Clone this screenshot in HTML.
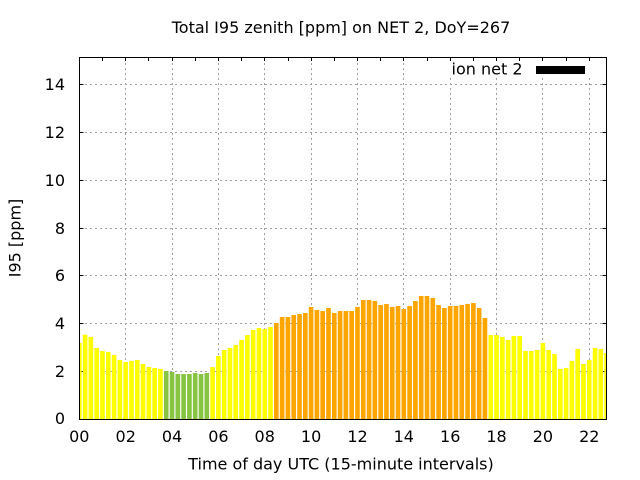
<!DOCTYPE html>
<html><head><meta charset="utf-8"><style>
html,body{margin:0;padding:0;background:#fff;}
svg{display:block;}
text{font-family:"DejaVu Sans","Liberation Sans",sans-serif;font-size:16px;fill:#000;}
</style></head><body>
<svg width="640" height="480" viewBox="0 0 640 480" xmlns="http://www.w3.org/2000/svg">
<rect width="640" height="480" fill="#fff"/>
<defs><clipPath id="pc"><rect x="79.5" y="57.5" width="527" height="362"/></clipPath></defs>
<g stroke="#a0a0a0" stroke-width="1" stroke-dasharray="2,3" fill="none">
<path d="M80 84.5H606M80 132.5H606M80 180.5H606M80 228.5H606M80 275.5H606M80 323.5H606M80 371.5H606"/>
<path d="M125.5 58V419M172.5 58V419M218.5 58V419M264.5 58V419M311.5 58V419M357.5 58V419M403.5 58V419M450.5 58V419M496.5 58V419M542.5 58V419M589.5 58V419"/>
</g>
<rect x="440" y="58" width="165" height="20" fill="#fff"/>
<g stroke="#000" stroke-width="1">
<path d="M79.5 84.5h4M79.5 132.5h4M79.5 180.5h4M79.5 228.5h4M79.5 275.5h4M79.5 323.5h4M79.5 371.5h4"/>
<path d="M606.5 84.5h-4M606.5 132.5h-4M606.5 180.5h-4M606.5 228.5h-4M606.5 275.5h-4M606.5 323.5h-4M606.5 371.5h-4"/>
<path d="M102.5 57.5v3.5M125.5 57.5v3.5M148.5 57.5v3.5M172.5 57.5v3.5M195.5 57.5v3.5M218.5 57.5v3.5M241.5 57.5v3.5M264.5 57.5v3.5M288.5 57.5v3.5M311.5 57.5v3.5M334.5 57.5v3.5M357.5 57.5v3.5M380.5 57.5v3.5M403.5 57.5v3.5M427.5 57.5v3.5M450.5 57.5v3.5M473.5 57.5v3.5M496.5 57.5v3.5M519.5 57.5v3.5M542.5 57.5v3.5M566.5 57.5v3.5M589.5 57.5v3.5"/>
</g>
<g clip-path="url(#pc)">
<g fill="#ffff00">
<rect x="76.98" y="343" width="4.64" height="76"/>
<rect x="82.78" y="334.7" width="4.64" height="84.3"/>
<rect x="88.57" y="337" width="4.64" height="82"/>
<rect x="94.37" y="348" width="4.64" height="71"/>
<rect x="100.16" y="351" width="4.64" height="68"/>
<rect x="105.96" y="352" width="4.64" height="67"/>
<rect x="111.75" y="355" width="4.64" height="64"/>
<rect x="117.55" y="360" width="4.64" height="59"/>
<rect x="123.34" y="362" width="4.64" height="57"/>
<rect x="129.14" y="361" width="4.64" height="58"/>
<rect x="134.93" y="360" width="4.64" height="59"/>
<rect x="140.73" y="364" width="4.64" height="55"/>
<rect x="146.52" y="367" width="4.64" height="52"/>
<rect x="152.32" y="368" width="4.64" height="51"/>
<rect x="158.11" y="369" width="4.64" height="50"/>
<rect x="210.27" y="367" width="4.64" height="52"/>
<rect x="216.06" y="356" width="4.64" height="63"/>
<rect x="221.86" y="350" width="4.64" height="69"/>
<rect x="227.65" y="348" width="4.64" height="71"/>
<rect x="233.45" y="345" width="4.64" height="74"/>
<rect x="239.24" y="340" width="4.64" height="79"/>
<rect x="245.04" y="335" width="4.64" height="84"/>
<rect x="250.83" y="330" width="4.64" height="89"/>
<rect x="256.63" y="328" width="4.64" height="91"/>
<rect x="262.42" y="329" width="4.64" height="90"/>
<rect x="268.22" y="327" width="4.64" height="92"/>
<rect x="488.43" y="335" width="4.64" height="84"/>
<rect x="494.22" y="335" width="4.64" height="84"/>
<rect x="500.02" y="337" width="4.64" height="82"/>
<rect x="505.81" y="340" width="4.64" height="79"/>
<rect x="511.61" y="336" width="4.64" height="83"/>
<rect x="517.40" y="336" width="4.64" height="83"/>
<rect x="523.20" y="351" width="4.64" height="68"/>
<rect x="528.99" y="351" width="4.64" height="68"/>
<rect x="534.79" y="350" width="4.64" height="69"/>
<rect x="540.58" y="343" width="4.64" height="76"/>
<rect x="546.38" y="350" width="4.64" height="69"/>
<rect x="552.17" y="354" width="4.64" height="65"/>
<rect x="557.97" y="369" width="4.64" height="50"/>
<rect x="563.76" y="368" width="4.64" height="51"/>
<rect x="569.56" y="361" width="4.64" height="58"/>
<rect x="575.35" y="349" width="4.64" height="70"/>
<rect x="581.15" y="364" width="4.64" height="55"/>
<rect x="586.94" y="360" width="4.64" height="59"/>
<rect x="592.74" y="348" width="4.64" height="71"/>
<rect x="598.53" y="349" width="4.64" height="70"/>
<rect x="604.33" y="353" width="4.64" height="66"/>
</g>
<g fill="#86c441">
<rect x="163.91" y="371" width="4.64" height="48"/>
<rect x="169.70" y="372" width="4.64" height="47"/>
<rect x="175.50" y="374" width="4.64" height="45"/>
<rect x="181.29" y="374" width="4.64" height="45"/>
<rect x="187.09" y="374" width="4.64" height="45"/>
<rect x="192.88" y="373" width="4.64" height="46"/>
<rect x="198.68" y="374" width="4.64" height="45"/>
<rect x="204.47" y="373" width="4.64" height="46"/>
</g>
<g fill="#ffa500">
<rect x="274.01" y="323" width="4.64" height="96"/>
<rect x="279.81" y="317" width="4.64" height="102"/>
<rect x="285.60" y="317" width="4.64" height="102"/>
<rect x="291.40" y="315" width="4.64" height="104"/>
<rect x="297.19" y="314" width="4.64" height="105"/>
<rect x="302.99" y="313" width="4.64" height="106"/>
<rect x="308.78" y="307" width="4.64" height="112"/>
<rect x="314.58" y="310" width="4.64" height="109"/>
<rect x="320.37" y="311" width="4.64" height="108"/>
<rect x="326.17" y="308" width="4.64" height="111"/>
<rect x="331.96" y="313" width="4.64" height="106"/>
<rect x="337.76" y="311" width="4.64" height="108"/>
<rect x="343.55" y="311" width="4.64" height="108"/>
<rect x="349.35" y="311" width="4.64" height="108"/>
<rect x="355.14" y="307" width="4.64" height="112"/>
<rect x="360.94" y="300" width="4.64" height="119"/>
<rect x="366.73" y="300" width="4.64" height="119"/>
<rect x="372.53" y="301" width="4.64" height="118"/>
<rect x="378.32" y="305" width="4.64" height="114"/>
<rect x="384.12" y="304" width="4.64" height="115"/>
<rect x="389.91" y="307" width="4.64" height="112"/>
<rect x="395.71" y="306" width="4.64" height="113"/>
<rect x="401.50" y="309" width="4.64" height="110"/>
<rect x="407.30" y="306" width="4.64" height="113"/>
<rect x="413.09" y="301" width="4.64" height="118"/>
<rect x="418.89" y="296" width="4.64" height="123"/>
<rect x="424.68" y="296" width="4.64" height="123"/>
<rect x="430.48" y="298" width="4.64" height="121"/>
<rect x="436.27" y="305" width="4.64" height="114"/>
<rect x="442.07" y="308" width="4.64" height="111"/>
<rect x="447.86" y="306" width="4.64" height="113"/>
<rect x="453.66" y="306" width="4.64" height="113"/>
<rect x="459.45" y="305" width="4.64" height="114"/>
<rect x="465.25" y="304" width="4.64" height="115"/>
<rect x="471.04" y="303" width="4.64" height="116"/>
<rect x="476.84" y="308" width="4.64" height="111"/>
<rect x="482.63" y="318" width="4.64" height="101"/>
</g>
</g>
<rect x="79.5" y="57.5" width="527" height="362" fill="none" stroke="#000" stroke-width="1"/>
<g text-anchor="end">
<text x="65" y="90">14</text>
<text x="65" y="138">12</text>
<text x="65" y="186">10</text>
<text x="65" y="234">8</text>
<text x="65" y="281">6</text>
<text x="65" y="329">4</text>
<text x="65" y="377">2</text>
<text x="65" y="424">0</text>
</g>
<g text-anchor="middle">
<text x="79.3" y="442">00</text>
<text x="125.7" y="442">02</text>
<text x="172" y="442">04</text>
<text x="218.4" y="442">06</text>
<text x="264.7" y="442">08</text>
<text x="311.1" y="442">10</text>
<text x="357.5" y="442">12</text>
<text x="403.8" y="442">14</text>
<text x="450.2" y="442">16</text>
<text x="496.5" y="442">18</text>
<text x="542.9" y="442">20</text>
<text x="589.3" y="442">22</text>
</g>
<text x="341" y="33" text-anchor="middle">Total I95 zenith [ppm] on NET 2, DoY=267</text>
<text x="341" y="469.5" text-anchor="middle">Time of day UTC (15-minute intervals)</text>
<text transform="translate(20.5,238) rotate(-90)" text-anchor="middle">I95 [ppm]</text>
<text x="522.5" y="74.5" text-anchor="end">ion net 2</text>
<rect x="536" y="66" width="49" height="8" fill="#000"/>
</svg>
</body></html>
